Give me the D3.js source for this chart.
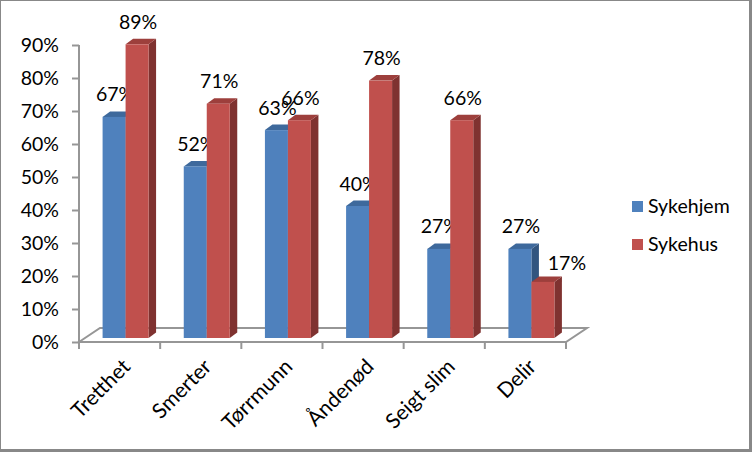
<!DOCTYPE html>
<html>
<head>
<meta charset="utf-8">
<script src="https://cdn.jsdelivr.net/npm/d3@7"></script>
<style>
  html, body { margin: 0; padding: 0; background: #fff; }
  svg text { font-family: Lato, "Noto Sans", sans-serif; fill: #000; }
</style>
</head>
<body>
<svg id="chart" width="752" height="452"></svg>
<script>
// data
const categories = ["Tretthet", "Smerter", "Tørrmunn", "Åndenød", "Seigt slim", "Delir"];
const series = ["Sykehjem", "Sykehus"];
const sykehjem = [0.67, 0.52, 0.63, 0.40, 0.27, 0.27];
const sykehus = [0.89, 0.71, 0.66, 0.78, 0.66, 0.17];
const yTicks = [0, 0.1, 0.2, 0.3, 0.4, 0.5, 0.6, 0.7, 0.8, 0.9];

const colors = {
  Sykehjem: {front: "#4F81BD", top: "#3E699C", side: "#32557F"},
  Sykehus: {front: "#C0504D", top: "#9D3F3C", side: "#7F3230"}
};

const svg = d3.select("#chart");
const fontSize = 19.5;
const catFontSize = 21;

// chart frame
svg.append("rect")
  .attr("x", 0.5).attr("y", 0.5)
  .attr("width", 749).attr("height", 449)
  .attr("fill", "none")
  .attr("stroke", "#888")
  .attr("stroke-width", 1);
svg.append("rect")
  .attr("x", 749).attr("y", 0).attr("width", 3).attr("height", 452).attr("fill", "#888");
svg.append("rect")
  .attr("x", 0).attr("y", 449).attr("width", 752).attr("height", 3).attr("fill", "#888");

// scales
const y = d3.scaleLinear().domain([0, 1]).range([342, 12]);
const x0 = d3.scaleBand().domain(categories).range([79, 566]).padding(0);
const x1 = d3.scaleBand().domain(series).range([0, x0.bandwidth()]).paddingOuter(0.765).paddingInner(0);

// floor depth and bar depth (pseudo 3d)
const floorDx = 21, floorDy = -14;
const barOffX = 6, barOffY = -4;
const barDx = 7.5, barDy = -5.5;

const axisColor = "#969696";

// floor
const floor = svg.append("g").attr("fill", "none").attr("stroke", axisColor).attr("stroke-width", 2);
floor.append("path")
  .attr("d", `M${x0.range()[0]},${y(0)} L${x0.range()[0] + floorDx},${y(0) + floorDy}
              L${x0.range()[1] + floorDx},${y(0) + floorDy} L${x0.range()[1]},${y(0)} Z`);

// y axis
const yAxis = svg.append("g").attr("transform", `translate(${x0.range()[0]},0)`)
  .call(d3.axisLeft(y).tickValues(yTicks).tickFormat(d3.format(".0%")).tickSize(7).tickPadding(13));
yAxis.select(".domain").remove();
yAxis.append("line")
  .attr("x1", 0).attr("x2", 0).attr("y1", y(0.9)).attr("y2", y(0) + 6)
  .attr("stroke", axisColor).attr("stroke-width", 2);
yAxis.selectAll(".tick line").attr("stroke", axisColor).attr("stroke-width", 2);
yAxis.selectAll(".tick text")
  .attr("font-size", fontSize)
  .attr("fill", "#000")
  .style("font-family", "Lato, 'Noto Sans', sans-serif");

// x axis ticks
const xTickPos = categories.map(c => x0(c)).concat([x0.range()[1]]);
svg.append("g").selectAll("line")
  .data(xTickPos)
  .join("line")
  .attr("x1", d => d).attr("x2", d => d)
  .attr("y1", y(0)).attr("y2", y(0) + 7)
  .attr("stroke", axisColor).attr("stroke-width", 2);

// bars
const rows = [];
categories.forEach((c, i) => {
  rows.push({cat: c, s: "Sykehjem", v: sykehjem[i], other: sykehus[i]});
  rows.push({cat: c, s: "Sykehus", v: sykehus[i], other: sykehjem[i]});
});

const bars = svg.append("g").selectAll("g")
  .data(rows)
  .join("g");

bars.each(function(d) {
  const g = d3.select(this);
  const xl = x0(d.cat) + x1(d.s) + barOffX;
  const w = x1.bandwidth();
  const yb = y(0) + barOffY;
  const yt = y(d.v) + barOffY;
  const c = colors[d.s];
  // side
  g.append("path")
    .attr("d", `M${xl + w},${yb} L${xl + w + barDx},${yb + barDy} L${xl + w + barDx},${yt + barDy} L${xl + w},${yt} Z`)
    .attr("fill", c.side);
  // top
  g.append("path")
    .attr("d", `M${xl},${yt} L${xl + barDx},${yt + barDy} L${xl + w + barDx},${yt + barDy} L${xl + w},${yt} Z`)
    .attr("fill", c.top);
  // front
  g.append("rect")
    .attr("x", xl).attr("y", yt)
    .attr("width", w).attr("height", yb - yt)
    .attr("fill", c.front);
  // value label; a second-series label below its taller neighbour is nudged right
  const nudge = d.s === "Sykehus" && d.other > d.v;
  g.append("text")
    .attr("x", xl + w / 2 + 1 + (nudge ? w : 0))
    .attr("y", yt - (nudge ? 11.5 : 15.5))
    .attr("text-anchor", "middle")
    .attr("font-size", fontSize)
    .text(d3.format(".0%")(d.v));
});

// category labels
svg.append("g").selectAll("text")
  .data(categories)
  .join("text")
  .attr("text-anchor", "end")
  .attr("font-size", catFontSize)
  .attr("transform", c => `translate(${x0(c) + x0.bandwidth() / 2 + 12},${y(0) + 26}) rotate(-45)`)
  .text(c => c);

// legend
const legend = svg.append("g").attr("transform", "translate(632,201)");
const li = legend.selectAll("g")
  .data(series)
  .join("g")
  .attr("transform", (d, i) => `translate(0,${i * 38})`);
li.append("rect")
  .attr("width", 11).attr("height", 11)
  .attr("fill", d => colors[d].front);
li.append("text")
  .attr("x", 16).attr("y", 12)
  .attr("font-size", fontSize)
  .text(d => d);
</script>
</body>
</html>
